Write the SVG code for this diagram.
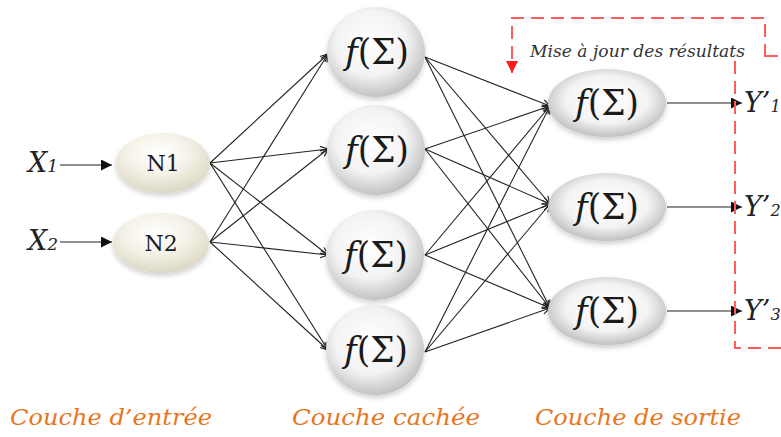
<svg xmlns="http://www.w3.org/2000/svg" width="781" height="437" viewBox="0 0 781 437">
<style>
.conn line{stroke:#222;stroke-width:1.1;fill:none}
.io{stroke:#111;stroke-width:1.8}
text{font-family:"DejaVu Serif",serif}
.fs{font-size:36px;fill:#1a1a1a}
.nl{font-size:22px;fill:#1a1a2a;text-anchor:middle}
.var{font-style:italic;font-size:27px;fill:#222}
.lab{font-style:italic;font-size:23px;fill:#E8761E}
.upd{font-style:italic;font-size:17px;fill:#333}
.dash{stroke:#FF5C5C;stroke-width:2;fill:none;stroke-dasharray:13 7}
</style>
<defs>
<radialGradient id="gH" cx="0.45" cy="0.4" r="0.6">
<stop offset="0" stop-color="#ffffff"/>
<stop offset="0.6" stop-color="#f3f3f3"/>
<stop offset="1" stop-color="#c2c2c2"/>
</radialGradient>
<radialGradient id="gO" cx="0.5" cy="0.45" r="0.58">
<stop offset="0" stop-color="#ffffff"/>
<stop offset="0.6" stop-color="#f3f3f3"/>
<stop offset="1" stop-color="#b8b8b8"/>
</radialGradient>
<radialGradient id="gI" cx="0.45" cy="0.35" r="0.65">
<stop offset="0" stop-color="#ffffff"/>
<stop offset="0.5" stop-color="#f5f3e8"/>
<stop offset="1" stop-color="#dcd8c4"/>
</radialGradient>
<filter id="sh" x="-20%" y="-20%" width="140%" height="150%">
<feDropShadow dx="0" dy="3" stdDeviation="2.5" flood-color="#000" flood-opacity="0.18"/>
</filter>
<marker id="ao" viewBox="0 0 10 10" refX="9.5" refY="5" markerWidth="9" markerHeight="9" markerUnits="userSpaceOnUse" orient="auto">
<path d="M1,1 L9.5,5 L1,9" fill="none" stroke="#222" stroke-width="1.3"/>
</marker>
<marker id="af" viewBox="0 0 10 10" refX="10" refY="5" markerWidth="14" markerHeight="11" markerUnits="userSpaceOnUse" orient="auto">
<path d="M0,0 L10,5 L0,10 Z" fill="#111"/>
</marker>
<marker id="ar" viewBox="0 0 10 10" refX="5" refY="10" markerWidth="12" markerHeight="15" markerUnits="userSpaceOnUse" orient="0">
<path d="M0,0 L10,0 L5,10 Z" fill="#ff1a1a"/>
</marker>
</defs>

<g id="connectors" class="conn">
<line x1="210" y1="163" x2="328" y2="54" marker-end="url(#ao)"/>
<line x1="210" y1="163" x2="328" y2="149" marker-end="url(#ao)"/>
<line x1="210" y1="163" x2="328" y2="255" marker-end="url(#ao)"/>
<line x1="210" y1="163" x2="328" y2="350" marker-end="url(#ao)"/>
<line x1="210" y1="242" x2="328" y2="54" marker-end="url(#ao)"/>
<line x1="210" y1="242" x2="328" y2="149" marker-end="url(#ao)"/>
<line x1="210" y1="242" x2="328" y2="255" marker-end="url(#ao)"/>
<line x1="210" y1="242" x2="328" y2="350" marker-end="url(#ao)"/>
<line x1="425" y1="57" x2="550" y2="106" marker-end="url(#ao)"/>
<line x1="425" y1="57" x2="550" y2="204" marker-end="url(#ao)"/>
<line x1="425" y1="57" x2="550" y2="308" marker-end="url(#ao)"/>
<line x1="425" y1="149" x2="550" y2="106" marker-end="url(#ao)"/>
<line x1="425" y1="149" x2="550" y2="204" marker-end="url(#ao)"/>
<line x1="425" y1="149" x2="550" y2="308" marker-end="url(#ao)"/>
<line x1="425" y1="255" x2="550" y2="106" marker-end="url(#ao)"/>
<line x1="425" y1="255" x2="550" y2="204" marker-end="url(#ao)"/>
<line x1="425" y1="255" x2="550" y2="308" marker-end="url(#ao)"/>
<line x1="425" y1="352" x2="550" y2="106" marker-end="url(#ao)"/>
<line x1="425" y1="352" x2="550" y2="204" marker-end="url(#ao)"/>
<line x1="425" y1="352" x2="550" y2="308" marker-end="url(#ao)"/>
<line class="io" x1="60" y1="165" x2="112" y2="165" marker-end="url(#af)"/>
<line class="io" x1="60" y1="242" x2="112" y2="242" marker-end="url(#af)"/>
<line class="io" x1="667" y1="103" x2="742" y2="103" marker-end="url(#af)"/>
<line class="io" x1="667" y1="207" x2="742" y2="207" marker-end="url(#af)"/>
<line class="io" x1="667" y1="311" x2="742" y2="311" marker-end="url(#af)"/>
</g>

<g id="feedback">
<path class="dash" d="M765,57 L765,18 L512,18 L512,73" marker-end="url(#ar)"/>
<path class="dash" d="M765,56 L781,56"/>
<path class="dash" d="M781,348 L735,348 L735,58"/>
<text class="upd" x="530" y="57" textLength="215" lengthAdjust="spacingAndGlyphs">Mise à jour des résultats</text>
</g>

<g id="X1"><text class="var" x="28" y="172">X<tspan font-size="17">1</tspan></text></g>
<g id="X2"><text class="var" x="28" y="250">X<tspan font-size="17">2</tspan></text></g>

<g id="N1"><ellipse cx="163" cy="163" rx="47" ry="30" fill="url(#gI)" filter="url(#sh)"/><text class="nl" x="163" y="171">N1</text></g>
<g id="N2"><ellipse cx="161" cy="243" rx="48" ry="30" fill="url(#gI)" filter="url(#sh)"/><text class="nl" x="161" y="251">N2</text></g>

<g id="H1"><ellipse cx="376" cy="52" rx="49" ry="45" fill="url(#gH)" filter="url(#sh)"/><text class="fs" x="345" y="64" textLength="64" lengthAdjust="spacingAndGlyphs"><tspan font-style="italic">f</tspan>(Σ)</text></g>
<g id="H2"><ellipse cx="376" cy="150" rx="49" ry="45" fill="url(#gH)" filter="url(#sh)"/><text class="fs" x="345" y="162" textLength="64" lengthAdjust="spacingAndGlyphs"><tspan font-style="italic">f</tspan>(Σ)</text></g>
<g id="H3"><ellipse cx="375" cy="255" rx="49" ry="45" fill="url(#gH)" filter="url(#sh)"/><text class="fs" x="344" y="267" textLength="64" lengthAdjust="spacingAndGlyphs"><tspan font-style="italic">f</tspan>(Σ)</text></g>
<g id="H4"><ellipse cx="375" cy="350" rx="49" ry="45" fill="url(#gH)" filter="url(#sh)"/><text class="fs" x="344" y="362" textLength="64" lengthAdjust="spacingAndGlyphs"><tspan font-style="italic">f</tspan>(Σ)</text></g>

<g id="O1"><ellipse cx="607" cy="103" rx="59" ry="34" fill="url(#gO)" filter="url(#sh)"/><text class="fs" x="575" y="115" textLength="64" lengthAdjust="spacingAndGlyphs"><tspan font-style="italic">f</tspan>(Σ)</text></g>
<g id="O2"><ellipse cx="607" cy="207" rx="59" ry="34" fill="url(#gO)" filter="url(#sh)"/><text class="fs" x="575" y="219" textLength="64" lengthAdjust="spacingAndGlyphs"><tspan font-style="italic">f</tspan>(Σ)</text></g>
<g id="O3"><ellipse cx="607" cy="311" rx="59" ry="34" fill="url(#gO)" filter="url(#sh)"/><text class="fs" x="575" y="323" textLength="64" lengthAdjust="spacingAndGlyphs"><tspan font-style="italic">f</tspan>(Σ)</text></g>

<g id="Y1"><text class="var" x="744" y="112" font-size="25">Y’<tspan font-size="16">1</tspan></text></g>
<g id="Y2"><text class="var" x="744" y="216" font-size="25">Y’<tspan font-size="16">2</tspan></text></g>
<g id="Y3"><text class="var" x="744" y="320" font-size="25">Y’<tspan font-size="16">3</tspan></text></g>

<g id="labels">
<text class="lab" x="10" y="425" textLength="202" lengthAdjust="spacingAndGlyphs">Couche d’entrée</text>
<text class="lab" x="292" y="425" textLength="188" lengthAdjust="spacingAndGlyphs">Couche cachée</text>
<text class="lab" x="535" y="425" textLength="206" lengthAdjust="spacingAndGlyphs">Couche de sortie</text>
</g>
</svg>
